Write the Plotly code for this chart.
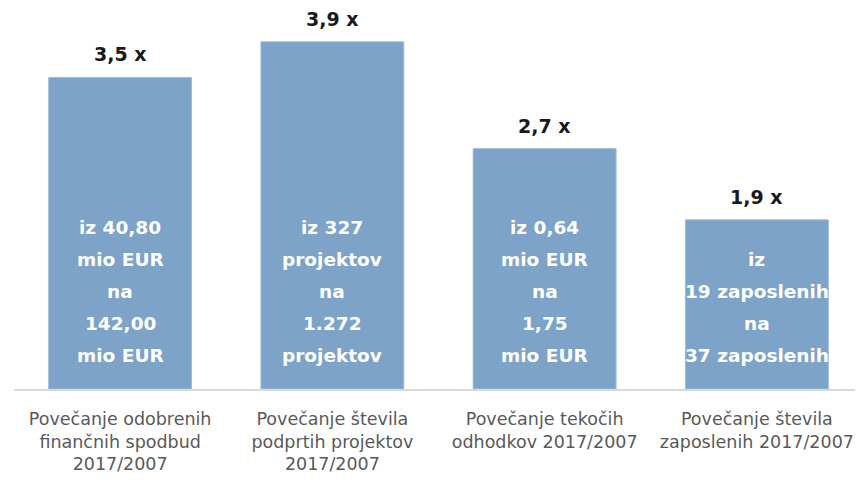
import plotly.graph_objects as go

# Data
categories = [
    "Povečanje odobrenih<br>finančnih spodbud<br>2017/2007",
    "Povečanje števila<br>podprtih projektov<br>2017/2007",
    "Povečanje tekočih<br>odhodkov 2017/2007",
    "Povečanje števila<br>zaposlenih 2017/2007",
]
ratios = [3.5, 3.9, 2.7, 1.9]
ratio_labels = ["3,5 x", "3,9 x", "2,7 x", "1,9 x"]
inner_lines = [
    ["iz 40,80", "mio EUR", "na", "142,00", "mio EUR"],
    ["iz 327", "projektov", "na", "1.272", "projektov"],
    ["iz 0,64", "mio EUR", "na", "1,75", "mio EUR"],
    ["iz", "19 zaposlenih", "na", "37 zaposlenih"],
]

BAR_COLOR = "#7ea3c8"
FONT = "DejaVu Sans"

fig = go.Figure(go.Bar(
    x=categories,
    y=ratios,
    marker=dict(color=BAR_COLOR, line=dict(color="#9dbad8", width=1)),
    hoverinfo="skip",
))

# Ratio labels above the bars
for cat, val, label in zip(categories, ratios, ratio_labels):
    fig.add_annotation(
        x=cat, y=val, xref="x", yref="y",
        text=f"<b>{label}</b>",
        showarrow=False, yanchor="bottom", yshift=10,
        font=dict(family=FONT, size=19, color="#1a1a1a"),
    )

# White text inside the bars, anchored at the base
for cat, lines in zip(categories, inner_lines):
    n = len(lines)
    for k, line in enumerate(lines):
        fig.add_annotation(
            x=cat, y=0, xref="x", yref="y",
            text=f"<b>{line}</b>",
            showarrow=False, yanchor="middle",
            yshift=34 + 32 * (n - 1 - k),
            font=dict(family=FONT, size=18.5, color="white"),
        )

# page body has an 8px margin, so the figure is sized to fit inside it
fig.update_layout(
    width=855,
    height=479,
    margin=dict(l=6, r=0, t=0, b=98),
    plot_bgcolor="white",
    paper_bgcolor="white",
    bargap=0.327,
    showlegend=False,
    font=dict(family=FONT),
)

fig.update_xaxes(
    automargin=False,
    showline=True, linecolor="#d9d9d9", linewidth=1.5,
    ticks="outside", ticklen=13, tickcolor="rgba(0,0,0,0)",
    tickfont=dict(family=FONT, size=17.5, color="#595959"),
    showgrid=False,
)
fig.update_yaxes(range=[0, 4.28], visible=False, showgrid=False)

fig.write_html("out.html")
